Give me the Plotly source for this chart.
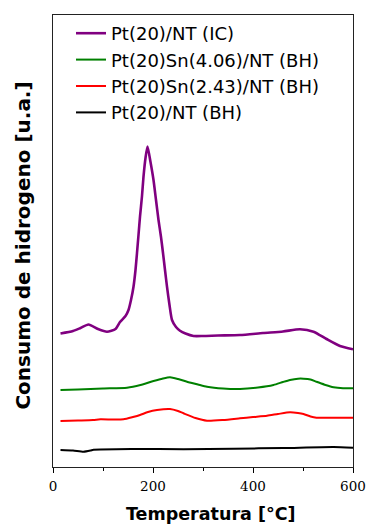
import plotly.graph_objects as go

# Temperature (°C) and hydrogen consumption (a.u.)
t_ic = [15, 40, 55, 71, 90, 108, 125, 134, 145, 151, 156, 161, 165, 168, 171, 174, 178, 181, 185, 189,
        195, 201, 206, 211, 216, 220, 224, 228, 233, 238, 246, 254, 265, 281, 300, 330, 374, 420, 460,
        494, 521, 547, 574, 600]
v_ic = [133.5, 136, 139, 142.5, 138, 135.3, 138, 145, 151, 157, 167, 180.3, 197, 214, 232, 250.3, 271,
        290.3, 309, 320.5, 305, 287, 267, 247, 230, 214, 197, 180.3, 162, 147, 140, 136.3, 133.5, 131,
        131, 131.5, 132, 134, 135.5, 137.7, 135.3, 128, 121, 117.7]

t_sn406 = [15, 50, 100, 148, 175, 201, 220, 234, 250, 268, 290, 308, 340, 374, 410, 441, 460, 474, 490,
           501, 515, 527, 545, 561, 580, 600]
v_sn406 = [77, 77.5, 78.5, 79.3, 82, 86, 88.5, 89.7, 88, 85.3, 82.5, 80.3, 78.5, 78, 79.5, 82, 85, 87,
           88.3, 88.3, 87.5, 85.3, 82, 79.7, 78.7, 78.7]

t_sn243 = [15, 50, 80, 95, 120, 141, 160, 174, 190, 208, 234, 250, 261, 285, 308, 340, 374, 400, 428,
           450, 474, 490, 501, 515, 527, 560, 600]
v_sn243 = [46, 46.5, 47, 47.7, 47.5, 47.7, 50, 52, 55, 57, 58, 56, 53.7, 49, 46.3, 47, 48.7, 50, 51.3,
           53, 54.7, 54, 53, 50.5, 49.3, 49.3, 49.3]

t_bh = [15, 40, 61, 75, 81, 161, 261, 361, 461, 561, 600]
v_bh = [17, 16.5, 15.3, 16.5, 17.3, 18, 17.8, 18.3, 19, 20, 19.3]

names = ["Pt(20)/NT (IC)", "Pt(20)Sn(4.06)/NT (BH)", "Pt(20)Sn(2.43)/NT (BH)", "Pt(20)/NT (BH)"]
colors = ["#800080", "#008000", "#ff0000", "#000000"]
widths = [2.6, 2, 2, 2]
x_ticks = [0, 200, 400, 600]
x_title = "Temperatura [°C]"
y_title = "Consumo de hidrogeno [u.a.]"

fig = go.Figure()
for t, v, n, c, w in zip([t_ic, t_sn406, t_sn243, t_bh], [v_ic, v_sn406, v_sn243, v_bh], names, colors, widths):
    fig.add_trace(go.Scatter(x=t, y=v, name=n, mode="lines",
                             line=dict(color=c, width=w, shape="spline", smoothing=0.6)))

fig.update_layout(
    width=366, height=526,
    margin=dict(l=53, r=13, t=15, b=59, autoexpand=False),
    paper_bgcolor="white", plot_bgcolor="white",
    showlegend=True,
    legend=dict(x=0.06, y=1.0, xanchor="left", yanchor="top",
                font=dict(family="DejaVu Sans", size=18, color="#000"),
                bgcolor="rgba(0,0,0,0)", borderwidth=0, tracegroupgap=0),
    font=dict(family="DejaVu Sans", color="#000"),
    annotations=[
        dict(text="<b>" + x_title + "</b>", xref="paper", yref="paper", x=0.528, y=-0.104,
             xanchor="center", yanchor="middle", showarrow=False,
             font=dict(family="DejaVu Sans", size=17.5, color="#000")),
        dict(text="<b>" + y_title + "</b>", xref="paper", yref="paper", x=-0.103, y=0.49,
             xanchor="center", yanchor="middle", showarrow=False, textangle=-90,
             font=dict(family="DejaVu Sans", size=20, color="#000")),
    ],
)
fig.update_xaxes(range=[0, 600], tickvals=x_ticks, ticktext=[str(v) for v in x_ticks],
                 ticks="outside", ticklen=5, tickwidth=1, tickcolor="#000", ticklabelstandoff=2,
                 ticklabeloverflow="allow",
                 minor=dict(dtick=100, ticks="outside", ticklen=3, tickcolor="#000"),
                 showline=True, linecolor="#222", linewidth=1, mirror=True, showgrid=False, zeroline=False,
                 tickfont=dict(family="DejaVu Serif", size=13.5, color="#000"), automargin=False)
fig.update_yaxes(range=[0, 452], showticklabels=False, ticks="",
                 showline=True, linecolor="#222", linewidth=1, mirror=True, showgrid=False, zeroline=False,
                 automargin=False)

# remove the default page margin so the figure fills the window exactly
fig.write_html("out.html", config={"displayModeBar": False},
               post_script="document.body.style.margin='0';document.body.style.overflow='hidden';")
